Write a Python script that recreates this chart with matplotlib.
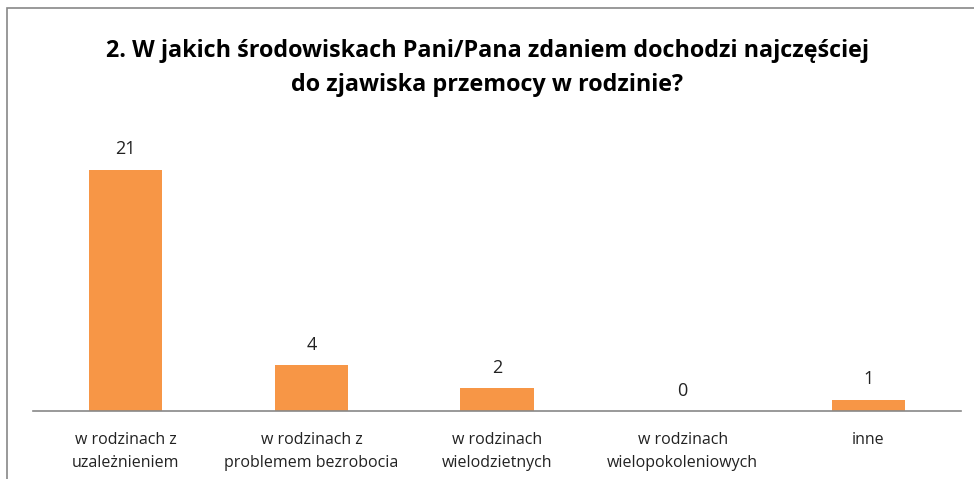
import matplotlib.pyplot as plt
from matplotlib.patches import Rectangle

categories = [
    "w rodzinach z\nuzależnieniem",
    "w rodzinach z\nproblemem bezrobocia",
    "w rodzinach\nwielodzietnych",
    "w rodzinach\nwielopokoleniowych",
    "inne",
]
values = [21, 4, 2, 0, 1]

plt.rcParams["font.family"] = ["Open Sans", "DejaVu Sans"]

fig = plt.figure(figsize=(9.74, 4.79), dpi=100)

# chart frame (gray border, like an Excel chart area)
fig.patches.append(Rectangle((7 / 974, -0.1), 1.1, 1 - 8 / 479 + 0.1,
                             transform=fig.transFigure, fill=False,
                             edgecolor="#888888", linewidth=1.2))

ax = fig.add_axes([33 / 974, 1 - 411 / 479, 928 / 974, (411 - 135.5) / 479])
x = range(len(values))
bars = ax.bar(x, values, width=0.395, color="#F79646")
ax.set_xlim(-0.5, len(values) - 0.5)
ax.set_ylim(0, 24)

for i, v in enumerate(values):
    ax.text(i, v + 1.0, str(v), ha="center", va="bottom", fontsize=13, color="#222222")

ax.set_xticks(list(x))
ax.set_xticklabels(categories, fontsize=11.5, color="#222222", linespacing=1.6)
ax.tick_params(axis="x", length=0, pad=15)
ax.set_yticks([])
for s in ["top", "right", "left"]:
    ax.spines[s].set_visible(False)
ax.spines["bottom"].set_color("#888888")
ax.spines["bottom"].set_linewidth(1.2)

fig.text(0.5, 1 - 68 / 479,
         "2. W jakich środowiskach Pani/Pana zdaniem dochodzi najczęściej\ndo zjawiska przemocy w rodzinie?",
         ha="center", va="center", fontsize=16.8, fontweight="bold", linespacing=1.6)

fig.savefig("out.png", dpi=100)
